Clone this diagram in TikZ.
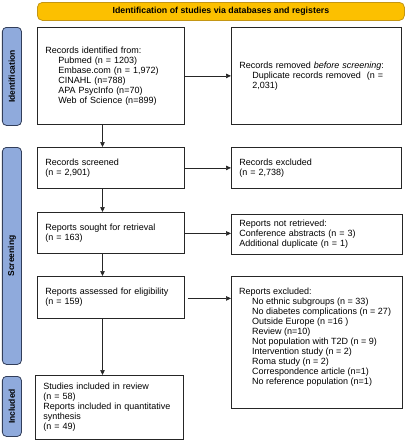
\documentclass[tikz,border=0pt]{standalone}
\usepackage{fontspec}
\setmainfont{Liberation Sans}
\usetikzlibrary{arrows.meta,calc}
\definecolor{bannerfill}{RGB}{252,192,0}
\definecolor{bannerdraw}{RGB}{196,150,20}
\definecolor{barfill}{RGB}{143,170,220}
\definecolor{bardraw}{RGB}{50,62,90}
\begin{document}
\begin{tikzpicture}[x=1pt,y=-1pt,
  boxnode/.style={draw=black!85, line width=0.8pt, anchor=north west, inner xsep=8pt, inner ysep=0pt,
    align=left, font=\fontsize{9}{10}\selectfont},
  txtnode/.style={anchor=north west, inner sep=0pt, align=left, font=\fontsize{9}{10}\selectfont},
  sidebar/.style={draw=bardraw, fill=barfill, line width=0.8pt, rounded corners=4pt, anchor=north west,
    inner sep=0pt, minimum width=19pt},
  sidelabel/.style={rotate=90, font=\bfseries\fontsize{8.5}{10}\selectfont, inner sep=0pt},
  banner/.style={draw=bannerdraw, fill=bannerfill, line width=0.8pt, rounded corners=5pt, anchor=north west,
    inner sep=0pt, minimum width=367pt, minimum height=18pt, font=\bfseries\fontsize{8.8}{10}\selectfont},
  arr/.style={draw=black!85, line width=0.7pt, -{Triangle[length=5pt,width=4.5pt]}}
]
\useasboundingbox (0,0) rectangle (405,440);

% banner
\node[banner] (ban) at (37,2) {Identification of studies via databases and registers};

% side bars
\node[sidebar, minimum height=98pt] (barid) at (2,27) {};
\node[sidelabel] (labid) at (barid.center) {Identification};
\node[sidebar, minimum height=217pt] (barsc) at (2,147) {};
\node[sidelabel] (labsc) at (barsc.center) {Screening};
\node[sidebar, minimum height=60pt] (barin) at (2,376) {};
\node[sidelabel] (labin) at (barin.center) {Included};

% boxes
\node[boxnode, minimum width=147pt, minimum height=97pt, text width=131pt] (ident) at (37,27)
  {Records identified from:\\
   \hspace*{13pt}Pubmed (n = 1203)\\
   \hspace*{13pt}Embase.com (n = 1,972)\\
   \hspace*{13pt}CINAHL (n=788)\\
   \hspace*{13pt}APA PsycInfo (n=70)\\
   \hspace*{13pt}Web of Science (n=899)};
\node[boxnode, minimum width=170pt, minimum height=97pt, text width=154pt] (removed) at (231,27)
  {Records removed \textit{before screening}:\\
   \hspace*{13pt}Duplicate records removed\ \ (n =\\
   \hspace*{13pt}2,031)};

\node[boxnode, minimum width=147pt, minimum height=41pt, text width=131pt] (screened) at (37,147)
  {Records screened\\(n = 2,901)};
\node[boxnode, minimum width=170pt, minimum height=41pt, text width=154pt] (excl1) at (231,147)
  {Records excluded\\(n = 2,738)};

\node[boxnode, minimum width=147pt, minimum height=41pt, text width=131pt] (sought) at (37,212)
  {Reports sought for retrieval\\(n = 163)};
\node[boxnode, minimum width=171pt, minimum height=40pt, text width=155pt] (notret) at (231,214)
  {Reports not retrieved:\\Conference abstracts (n = 3)\\Additional duplicate (n = 1)};

\node[boxnode, minimum width=147pt, minimum height=42pt, text width=131pt] (assessed) at (37,276)
  {Reports assessed for eligibility\\(n = 159)};
\node[boxnode, minimum width=171pt, minimum height=132pt] (excl2) at (231,276) {};
\node[txtnode] (excl2txt) at (239,287.6)
  {Reports excluded:\\
   \hspace*{13pt}No ethnic subgroups (n = 33)\\
   \hspace*{13pt}No diabetes complications (n = 27)\\
   \hspace*{13pt}Outside Europe (n =16 )\\
   \hspace*{13pt}Review (n=10)\\
   \hspace*{13pt}Not population with T2D (n = 9)\\
   \hspace*{13pt}Intervention study (n = 2)\\
   \hspace*{13pt}Roma study (n = 2)\\
   \hspace*{13pt}Correspondence article (n=1)\\
   \hspace*{13pt}No reference population (n=1)};

\node[boxnode, minimum width=148pt, minimum height=64pt, text width=132pt] (included) at (35,375)
  {Studies included in review\\(n = 58)\\Reports included in quantitative\\synthesis\\(n = 49)};

% connectors
\coordinate (vx) at (102.5,0);
\draw[arr] (ident.south -| vx) -- (screened.north -| vx);
\draw[arr] (screened.south -| vx) -- (sought.north -| vx);
\draw[arr] (sought.south -| vx) -- (assessed.north -| vx);
\draw[arr] (assessed.south -| vx) -- (included.north -| vx);

\draw[arr] (ident.east) -- (ident.east -| removed.west);
\draw[arr] (screened.east) -- (screened.east -| excl1.west);
\draw[arr] ($(sought.east)+(0,0.5)$) -- ($(sought.east -| notret.west)+(0,0.5)$);
\draw[arr, shorten <=3pt] ($(assessed.east)+(0,1)$) -- ($(assessed.east -| excl2.west)+(0,1)$);
\end{tikzpicture}
\end{document}
